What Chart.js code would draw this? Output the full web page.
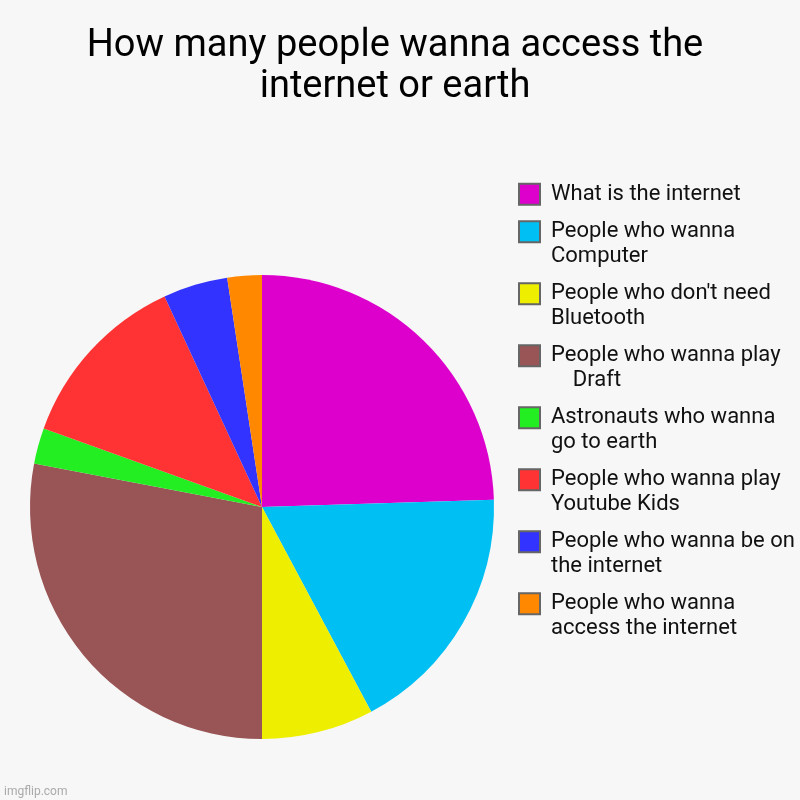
<!DOCTYPE html>
<html>
<head>
<meta charset="utf-8">
<script src="https://cdn.jsdelivr.net/npm/chart.js@4.4.1/dist/chart.umd.min.js"></script>
<style>
  html, body { margin: 0; padding: 0; background: #f7f7f7; }
  #wrap { width: 800px; height: 800px; position: relative; }
</style>
</head>
<body>
<div id="wrap"><canvas id="c" width="800" height="800"></canvas></div>
<script>
const titleLines = ["How many people wanna access the", "internet or earth"];
const categories = [
  ["What is the internet"],
  ["People who wanna", "Computer"],
  ["People who don't need", "Bluetooth"],
  ["People who wanna play", "    Draft"],
  ["Astronauts who wanna", "go to earth"],
  ["People who wanna play", "Youtube Kids"],
  ["People who wanna be on", "the internet"],
  ["People who wanna", "access the internet"]
];
const values = [24.5, 17.7, 7.8, 28.0, 2.5, 12.6, 4.5, 2.4];
const colors = ["#dd00cc", "#00bff3", "#eeee00", "#995555", "#22ee22", "#ff3333", "#3333ff", "#ff8800"];
const watermark = "imgflip.com";

const watermarkPlugin = {
  id: 'watermark',
  afterDraw(chart) {
    const ctx = chart.ctx;
    ctx.save();
    ctx.font = '12px Roboto';
    ctx.fillStyle = '#aaaaaa';
    ctx.textAlign = 'left';
    ctx.textBaseline = 'alphabetic';
    ctx.fillText(watermark, 4, 795);
    ctx.restore();
  }
};

// let the legend text run to the canvas edge (legend is clipped to its box)
const legendWidenPlugin = {
  id: 'legendWiden',
  afterLayout(chart) {
    const lg = chart.legend;
    if (lg) {
      lg.right = chart.width;
      lg.width = lg.right - lg.left;
    }
  }
};

new Chart(document.getElementById('c'), {
  type: 'pie',
  data: {
    labels: categories,
    datasets: [{
      data: values,
      backgroundColor: colors,
      borderWidth: 0,
      radius: 232
    }]
  },
  plugins: [watermarkPlugin, legendWidenPlugin],
  options: {
    responsive: false,
    animation: false,
    events: [],
    layout: { padding: { left: 18, right: 28, top: 25, bottom: 0 } },
    plugins: {
      tooltip: { enabled: false },
      title: {
        display: true,
        text: titleLines,
        color: '#000000',
        font: { family: 'Roboto', size: 38, weight: 'normal', lineHeight: 41 / 38 },
        padding: { top: 0.5, bottom: 106.5 }
      },
      legend: {
        display: true,
        position: 'right',
        align: 'center',
        maxWidth: 266,
        labels: {
          color: '#111111',
          font: { family: 'Roboto', size: 22, lineHeight: 24.5 / 22 },
          boxWidth: 21,
          boxHeight: 21,
          padding: 13,
          generateLabels(chart) {
            const items = Chart.overrides.pie.plugins.legend.labels.generateLabels(chart);
            return items.map(it => Object.assign(it, { strokeStyle: '#666666', lineWidth: 2 }));
          }
        }
      }
    }
  }
});
</script>
</body>
</html>
